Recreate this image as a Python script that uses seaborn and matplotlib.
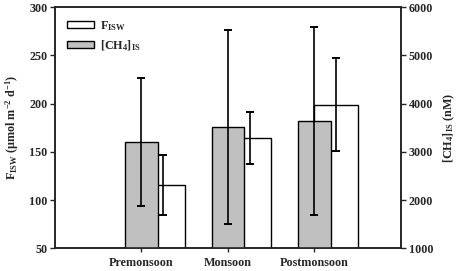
import numpy as np
import pandas as pd
import matplotlib
matplotlib.use("Agg")
import matplotlib.pyplot as plt
from matplotlib.patches import Patch
import seaborn as sns

# values
seasons = ["Premonsoon", "Monsoon", "Postmonsoon"]
f_isw = [116, 164, 199]          # umol m-2 d-1 (left axis, white bars)
f_isw_err = [31, 27, 48]
ch4_is = [3205, 3510, 3635]      # nM (right axis, grey bars)
ch4_is_err = [1330, 2005, 1950]

sns.set_style("ticks")
plt.rcParams["font.family"] = ["Liberation Serif", "DejaVu Serif"]
plt.rcParams["font.weight"] = "bold"
plt.rcParams["mathtext.default"] = "regular"
plt.rcParams["axes.linewidth"] = 1.2

pos = np.arange(len(seasons))
df = pd.DataFrame({"pos": pos, "white_pos": pos + 0.25,
                   "fisw": f_isw, "ch4": ch4_is})

fig = plt.figure(figsize=(4.59, 2.71), dpi=100)
ax = fig.add_axes([0.1198, 0.0838, 0.7538, 0.8902])

# F_ISW bars behind, on the left axis
sns.barplot(data=df, x="white_pos", y="fisw", native_scale=True, width=0.5,
            color="white", saturation=1, edgecolor="black", linewidth=1,
            errorbar=None, ax=ax)
ax.errorbar(df["white_pos"], df["fisw"], yerr=f_isw_err, fmt="none",
            ecolor="black", elinewidth=1.2, capsize=3, capthick=1.4)

ax2 = ax.twinx()
sns.barplot(data=df, x="pos", y="ch4", native_scale=True, width=0.38,
            color="#c0c0c0", saturation=1, edgecolor="black", linewidth=1,
            errorbar=None, ax=ax2)
ax2.errorbar(df["pos"], df["ch4"], yerr=ch4_is_err, fmt="none",
             ecolor="black", elinewidth=1.2, capsize=3, capthick=1.4)

ax.set_xlim(-1, 3)
ax.set_xticks(pos)
ax.set_xticklabels(seasons)
ax.set_ylim(50, 300)
ax.set_yticks([50, 100, 150, 200, 250, 300])
ax2.set_ylim(1000, 6000)
ax2.set_yticks([1000, 2000, 3000, 4000, 5000, 6000])

fs = 8.7
ax.set_xlabel("")
ax.set_ylabel(r"F$_{ISW}$ ($\mu$mol m$^{-2}$ d$^{-1}$)", fontsize=fs,
              fontweight="bold", labelpad=6)
ax2.set_xlabel("")
ax2.set_ylabel(r"[CH$_4$]$_{IS}$ (nM)", fontsize=fs, fontweight="bold",
               labelpad=6)

ax.tick_params(axis="both", labelsize=fs, direction="out", length=3.5,
               width=1, pad=2)
ax.tick_params(axis="x", length=3, pad=3.5)
ax2.tick_params(axis="y", labelsize=fs, direction="out", length=3.5,
                width=1, pad=2)
for a in (ax, ax2):
    for s in a.spines.values():
        s.set_visible(True)
        s.set_linewidth(1.2)
    for lab in a.get_xticklabels() + a.get_yticklabels():
        lab.set_fontweight("bold")

handles = [Patch(facecolor="white", edgecolor="black", linewidth=1),
           Patch(facecolor="#c0c0c0", edgecolor="black", linewidth=1)]
ax2.legend(handles, [r"F$_{ISW}$", r"[CH$_4$]$_{IS}$"], loc="upper left",
           bbox_to_anchor=(0.0, 1.0), frameon=False, fontsize=fs,
           handlelength=2.2, handleheight=0.5, labelspacing=0.45,
           handletextpad=0.5, borderaxespad=0.6)

fig.savefig("out.png", dpi=100)
